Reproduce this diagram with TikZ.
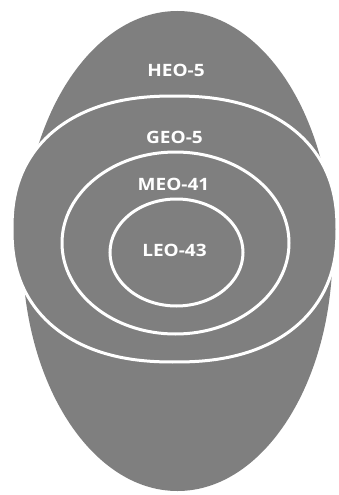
\documentclass[tikz,border=0pt]{standalone}
\usepackage{fontspec}
\setmainfont{Open Sans}
\definecolor{orbgray}{RGB}{127,127,127}
\tikzset{
  orbit/.style={fill=orbgray, draw=white, line width=3pt},
  lbl/.style={text=white, font=\fontsize{17}{19}\selectfont\bfseries, xscale=1.12, transform shape, inner sep=0pt}
}
\begin{document}
\begin{tikzpicture}[x=1pt,y=-1pt]
\useasboundingbox (0,0) rectangle (339,495);
% HEO outer
\fill[orbgray] (177.5,251) ellipse [x radius=155, y radius=240];
% GEO
\draw[orbit] plot[domain=0:360, samples=240, smooth cycle, variable=\t]
  ({174.5+162.5*cos(\t)*pow(abs(cos(\t))+0.00001,-0.13)},{229+133*sin(\t)*pow(abs(sin(\t))+0.00001,-0.13)});
% MEO
\draw[orbit] (175.5,243) ellipse [x radius=113.5, y radius=91];
% LEO
\draw[orbit] (176.5,252.5) ellipse [x radius=66.5, y radius=53.5];
\node[lbl] (heo) at (176,70) {HEO-5};
\node[lbl] (geo) at (174.5,137) {GEO-5};
\node[lbl] (meo) at (173.5,184) {MEO-41};
\node[lbl] (leo) at (174.5,250) {LEO-43};
\end{tikzpicture}
\end{document}
